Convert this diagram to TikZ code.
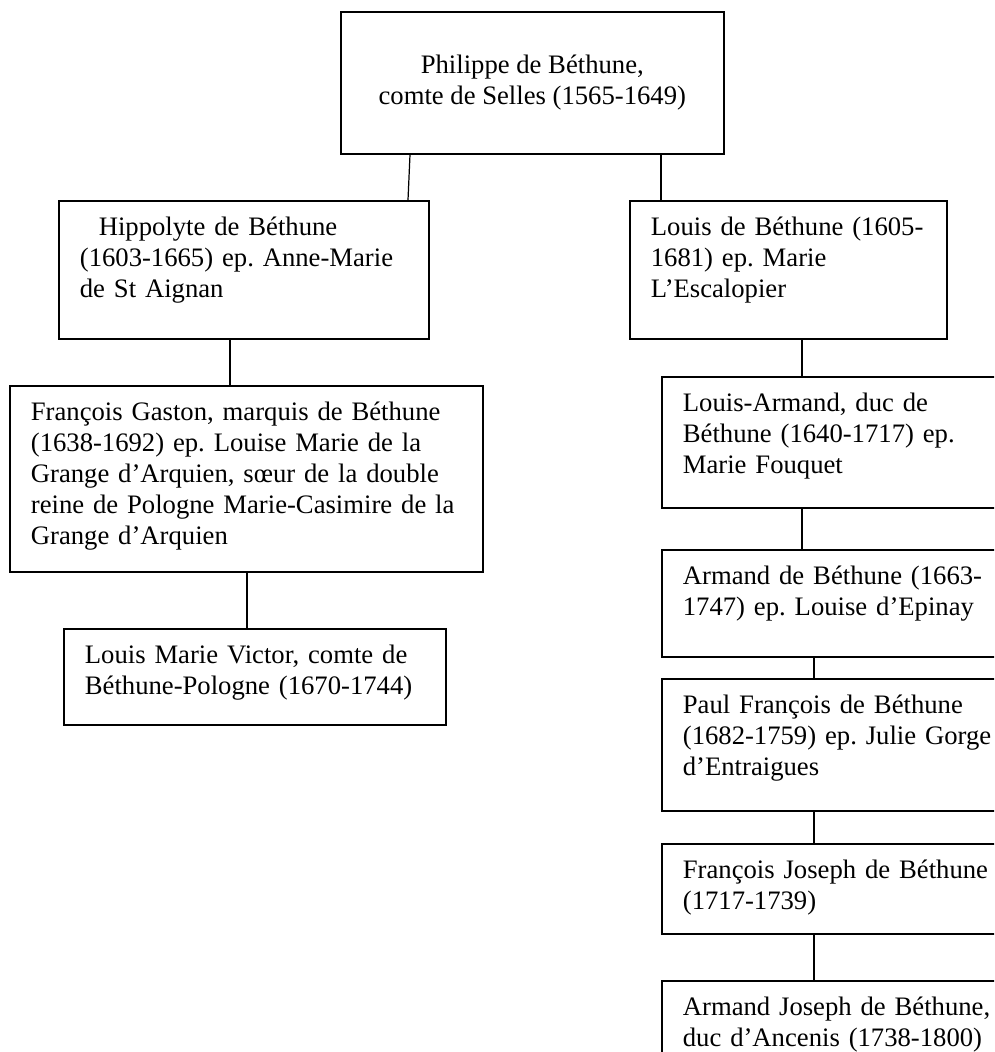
\documentclass[tikz,border=0pt]{standalone}
\usepackage{fontspec}
\setmainfont{Liberation Serif}
\usetikzlibrary{positioning,calc}
\frenchspacing

\begin{document}
\begin{tikzpicture}[
        x=0.45pt, y=-0.45pt,
        head/.style={draw, line width=0.7pt, anchor=north west, align=center, inner sep=0pt, font=\fontsize{12}{13.95}\selectfont},
        person/.style={draw, line width=0.7pt, anchor=north west, align=left, inner xsep=9.5pt, inner ysep=0pt, text height=15.75pt, font=\fontsize{12}{13.95}\selectfont},
        link/.style={line width=0.55pt}
    ]
        \clip[use as bounding box] (0,0) rectangle (994,1052);

        % Head of the family
        \node[head, minimum width=172.35pt, minimum height=63.9pt] (philippe) at (340,11) {Philippe de Béthune,\\comte de Selles (1565-1649)};

        % Left branch
        \node[person, text width=147.5pt, text depth=46.35pt] (hippolyte) at (58,200) {\hspace*{8.5pt}Hippolyte de Béthune\\(1603-1665) ep. Anne-Marie\\de St Aignan};
        \node[person, text width=193.85pt, text depth=67.95pt] (francois) at (9,385) {François Gaston, marquis de Béthune\\(1638-1692) ep. Louise Marie de la\\Grange d’Arquien, sœur de la double\\reine de Pologne Marie-Casimire de la\\Grange d’Arquien};
        \node[person, text width=152.9pt, text depth=27.45pt] (victor) at (63,628) {Louis Marie Victor, comte de\\Béthune-Pologne (1670-1744)};

        % Right branch
        \node[person, text width=123.65pt, text depth=46.35pt] (louis) at (629,200) {Louis de Béthune (1605-\\1681) ep. Marie\\L’Escalopier};
        \node[person, text width=170pt, text depth=43.2pt] (louisarmand) at (661,376) {Louis-Armand, duc de\\Béthune (1640-1717) ep.\\Marie Fouquet};
        \node[person, text width=170pt, text depth=32.4pt] (armand) at (661,549) {Armand de Béthune (1663-\\1747) ep. Louise d’Epinay};
        \node[person, text width=170pt, text depth=43.65pt] (paul) at (661,678) {Paul François de Béthune\\(1682-1759) ep. Julie Gorge\\d’Entraigues};
        \node[person, text width=170pt, text depth=24.75pt] (fjoseph) at (661,843) {François Joseph de Béthune\\(1717-1739)};
        \node[person, text width=170pt, text depth=35pt] (ajoseph) at (661,980) {Armand Joseph de Béthune,\\duc d’Ancenis (1738-1800)};

        % Lines
        \draw[link] ($(philippe.south west)+(70,0)$) -- ($(hippolyte.north west)+(350,0)$);
        \draw[link] ($(philippe.south west)+(321,0)$) -- ($(louis.north west)+(32,0)$);
        \draw[link] ($(hippolyte.south west)+(172,0)$) -- ($(francois.north west)+(221,0)$);
        \draw[link] ($(francois.south west)+(238,0)$) -- ($(victor.north west)+(184,0)$);
        \draw[link] ($(louis.south west)+(173,0)$) -- ($(louisarmand.north west)+(141,0)$);
        \draw[link] ($(louisarmand.south west)+(141,0)$) -- ($(armand.north west)+(141,0)$);
        \draw[link] ($(armand.south west)+(153,0)$) -- ($(paul.north west)+(153,0)$);
        \draw[link] ($(paul.south west)+(153,0)$) -- ($(fjoseph.north west)+(153,0)$);
        \draw[link] ($(fjoseph.south west)+(153,0)$) -- ($(ajoseph.north west)+(153,0)$);
    \end{tikzpicture}
\end{document}
